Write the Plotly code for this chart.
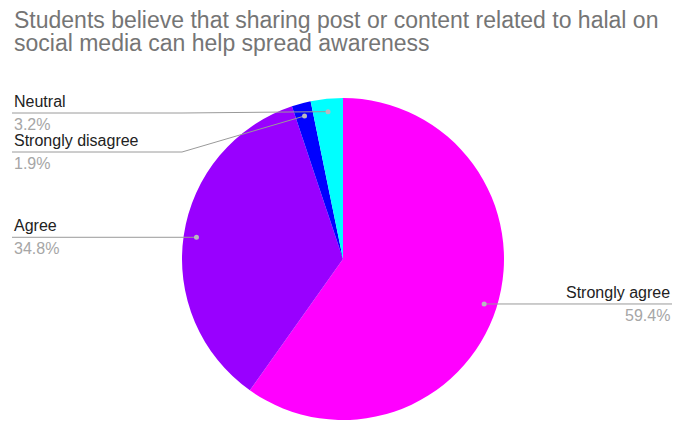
import math
import plotly.graph_objects as go

# ---- data ----
labels = ["Strongly agree", "Agree", "Strongly disagree", "Neutral"]
values = [59.4, 34.8, 1.9, 3.2]
colors = ["#ff00ff", "#9900ff", "#0000ff", "#00ffff"]
title_lines = ["Students believe that sharing post or content related to halal on",
               "social media can help spread awareness"]

# ---- layout constants (pixels) ----
W, H = 673, 427
CX, CY, R = 343, 259, 161
DOT_FRAC = 0.92
LEFT_X, RIGHT_X, ELBOW_X = 12, 672, 182
FONT = "Liberation Sans, Arial"
# label placement: side, y of underline (None -> same as dot)
placement = {
    "Strongly agree": ("right", None),
    "Agree": ("left", None),
    "Strongly disagree": ("left", 152),
    "Neutral": ("left", 113),
}

fig = go.Figure()
fig.add_trace(go.Pie(
    labels=labels, values=values, sort=False, direction="clockwise", rotation=0,
    marker=dict(colors=colors, line=dict(width=0)),
    textinfo="none", showlegend=False,
    domain=dict(x=[(CX - R) / W, (CX + R) / W], y=[(H - CY - R) / H, (H - CY + R) / H]),
))

total = sum(values)
cum = 0.0
annotations = []
shapes = []
for lab, val in zip(labels, values):
    mid = (cum + val / 2) / total * 2 * math.pi
    cum += val
    dx = CX + DOT_FRAC * R * math.sin(mid)
    dy = CY - DOT_FRAC * R * math.cos(mid)
    side, ly = placement[lab]
    if side == "right":
        pts = [(dx, dy), (RIGHT_X, dy)]
        tx, anchor, liney = RIGHT_X, "right", dy
    elif ly is None:
        pts = [(dx, dy), (LEFT_X, dy)]
        tx, anchor, liney = LEFT_X, "left", dy
    else:
        pts = [(dx, dy), (ELBOW_X, ly), (LEFT_X, ly)]
        tx, anchor, liney = LEFT_X, "left", ly
    path = "M " + " L ".join(f"{x:.2f},{y:.2f}" for x, y in pts)
    shapes.append(dict(type="path", path=path, xref="x", yref="y", layer="above",
                       line=dict(color="#9a9a9a", width=1)))
    shapes.append(dict(type="circle", xref="x", yref="y", layer="above",
                       x0=dx - 2.5, x1=dx + 2.5, y0=dy - 2.5, y1=dy + 2.5,
                       fillcolor="#b8b8c0", line=dict(width=0)))
    annotations.append(dict(x=tx, y=liney - 1, xref="x", yref="y", text=lab, showarrow=False,
                            xanchor=anchor, yanchor="bottom",
                            font=dict(family=FONT, size=16, color="#222222")))
    annotations.append(dict(x=tx, y=liney + 1, xref="x", yref="y", text=f"{val:.1f}%", showarrow=False,
                            xanchor=anchor, yanchor="top",
                            font=dict(family=FONT, size=16, color="#a6a6a6")))

for i, t in enumerate(title_lines):
    annotations.append(dict(x=LEFT_X, y=20 + 23 * i, xref="x", yref="y", text=t, showarrow=False,
                            xanchor="left", yanchor="middle",
                            font=dict(family=FONT, size=23, color="#757575")))

fig.update_layout(
    width=W, height=H, margin=dict(l=0, r=0, t=0, b=0),
    paper_bgcolor="white", plot_bgcolor="rgba(0,0,0,0)",
    xaxis=dict(range=[0, W], visible=False, fixedrange=True),
    yaxis=dict(range=[H, 0], visible=False, fixedrange=True),
    annotations=annotations, shapes=shapes,
)
fig.write_html("out.html")
